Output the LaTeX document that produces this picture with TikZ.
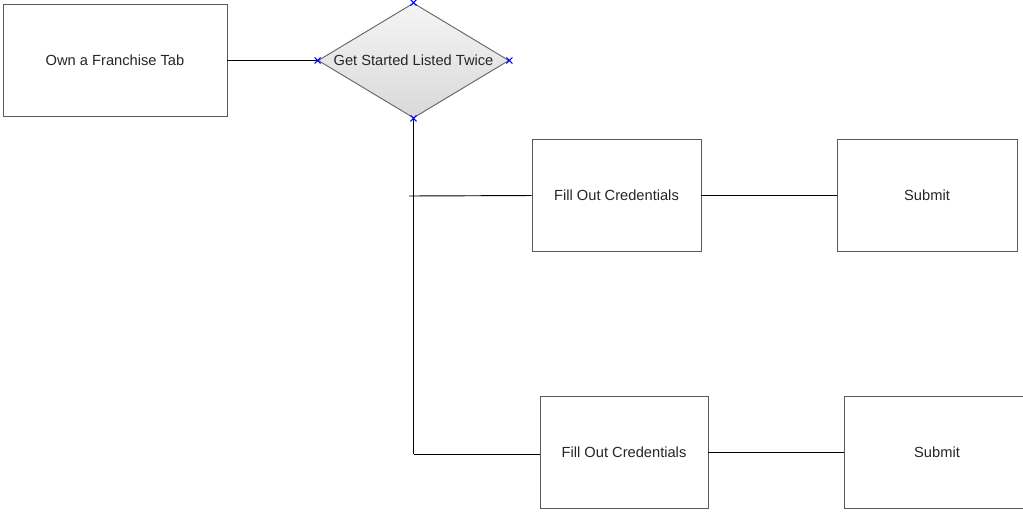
\documentclass[tikz,border=0pt]{standalone}
\usepackage{fontspec}
\setmainfont{Liberation Sans}
\usetikzlibrary{shapes.geometric}

\begin{document}
\begin{tikzpicture}[x=0.75pt,y=-0.75pt,
    pagebox/.style={draw=black!65, line width=0.7pt, fill=white, minimum width=#1,
        minimum height=83.5pt, inner sep=0pt, font=\fontsize{11}{13}\selectfont, text=black!85},
    choice/.style={diamond, aspect=1.66, draw=black!60, line width=0.7pt,
        top color=gray!8, bottom color=gray!30, minimum width=143.25pt,
        minimum height=86.25pt, inner sep=0pt, font=\fontsize{11}{13}\selectfont, text=black!85},
    link/.style={black, line width=0.7pt},
    handle/.style={blue, line width=0.8pt}]
    \useasboundingbox (0,0) rectangle (1023,512);
    \clip (0,0) rectangle (1023,512);

    % Boxes
    \node[pagebox=168pt] (tab) at (115,60.5) {Own a Franchise Tab};
    \node[choice] (started) at (413.5,60.5) {Get Started Listed Twice};
    \node[pagebox=126.75pt] (fill1) at (616.5,195.5) {Fill Out Credentials};
    \node[pagebox=135pt] (submit1) at (927,195.5) {Submit};
    \node[pagebox=126pt, minimum height=84pt] (fill2) at (624,452) {Fill Out Credentials};
    \node[pagebox=139.5pt, minimum height=84pt] (submit2) at (937,452) {Submit};

    % Branch points
    \coordinate (split1) at (409,196);
    \coordinate (split2) at (413.5,454);

    % Connectors
    \draw[link] (tab.east) -- (started.west);
    \draw[link] (started.south) -- (split2);
    \draw[link] (split1) -- (fill1.west);
    \draw[link] (split2) -- (split2 -| fill2.west);
    \draw[link] (fill1.east) -- (submit1.west);
    \draw[link] (fill2.east) -- (submit2.west);

    % Handles on the diamond
    \foreach \a in {north,south,east,west} {
        \draw[handle] ([shift={(-3,-3)}]started.\a) -- ++(6,6)
                      ([shift={(-3,3)}]started.\a) -- ++(6,-6);
    }
\end{tikzpicture}
\end{document}
